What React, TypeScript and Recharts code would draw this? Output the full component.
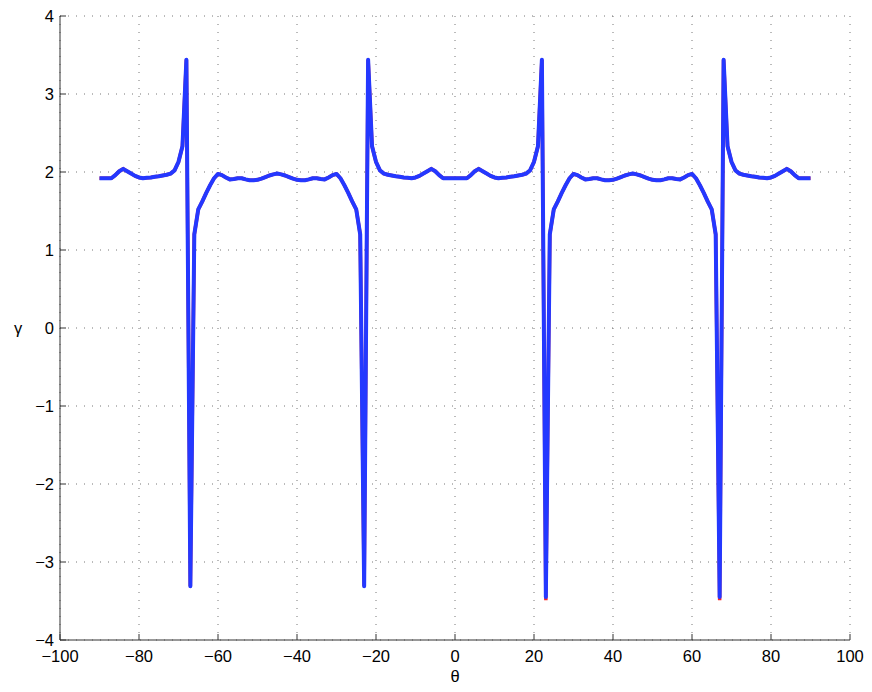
import { LineChart, Line, XAxis, YAxis, CartesianGrid, Label } from 'recharts';

// θ sampled every degree from -90 to 90
const THETA = [
  -90, -89, -88, -87, -86, -85, -84, -83, -82, -81,
  -80, -79, -78, -77, -76, -75, -74, -73, -72, -71,
  -70, -69, -68, -67, -66, -65, -64, -63, -62, -61,
  -60, -59, -58, -57, -56, -55, -54, -53, -52, -51,
  -50, -49, -48, -47, -46, -45, -44, -43, -42, -41,
  -40, -39, -38, -37, -36, -35, -34, -33, -32, -31,
  -30, -29, -28, -27, -26, -25, -24, -23, -22, -21,
  -20, -19, -18, -17, -16, -15, -14, -13, -12, -11,
  -10, -9, -8, -7, -6, -5, -4, -3, -2, -1,
  0, 1, 2, 3, 4, 5, 6, 7, 8, 9,
  10, 11, 12, 13, 14, 15, 16, 17, 18, 19,
  20, 21, 22, 23, 24, 25, 26, 27, 28, 29,
  30, 31, 32, 33, 34, 35, 36, 37, 38, 39,
  40, 41, 42, 43, 44, 45, 46, 47, 48, 49,
  50, 51, 52, 53, 54, 55, 56, 57, 58, 59,
  60, 61, 62, 63, 64, 65, 66, 67, 68, 69,
  70, 71, 72, 73, 74, 75, 76, 77, 78, 79,
  80, 81, 82, 83, 84, 85, 86, 87, 88, 89,
  90,
];

const GAMMA_BLUE = [
  1.92, 1.92, 1.92, 1.92, 1.96, 2.01, 2.04, 2.01, 1.98, 1.95,
  1.93, 1.92, 1.925, 1.93, 1.94, 1.945, 1.955, 1.965, 1.98, 2.02,
  2.13, 2.33, 3.44, -3.31, 1.2, 1.52, 1.62, 1.73, 1.83, 1.92,
  1.975, 1.96, 1.93, 1.905, 1.91, 1.92, 1.92, 1.905, 1.895, 1.895,
  1.9, 1.915, 1.935, 1.955, 1.97, 1.98, 1.97, 1.955, 1.935, 1.915,
  1.9, 1.895, 1.895, 1.905, 1.92, 1.92, 1.91, 1.905, 1.93, 1.96,
  1.975, 1.92, 1.83, 1.73, 1.62, 1.52, 1.2, -3.31, 3.44, 2.33,
  2.13, 2.02, 1.98, 1.965, 1.955, 1.945, 1.94, 1.93, 1.925, 1.92,
  1.93, 1.95, 1.98, 2.01, 2.04, 2.01, 1.96, 1.92, 1.92, 1.92,
  1.92, 1.92, 1.92, 1.92, 1.96, 2.01, 2.04, 2.01, 1.98, 1.95,
  1.93, 1.92, 1.925, 1.93, 1.94, 1.945, 1.955, 1.965, 1.98, 2.02,
  2.13, 2.33, 3.44, -3.45, 1.2, 1.52, 1.62, 1.73, 1.83, 1.92,
  1.975, 1.96, 1.93, 1.905, 1.91, 1.92, 1.92, 1.905, 1.895, 1.895,
  1.9, 1.915, 1.935, 1.955, 1.97, 1.98, 1.97, 1.955, 1.935, 1.915,
  1.9, 1.895, 1.895, 1.905, 1.92, 1.92, 1.91, 1.905, 1.93, 1.96,
  1.975, 1.92, 1.83, 1.73, 1.62, 1.52, 1.2, -3.45, 3.44, 2.33,
  2.13, 2.02, 1.98, 1.965, 1.955, 1.945, 1.94, 1.93, 1.925, 1.92,
  1.93, 1.95, 1.98, 2.01, 2.04, 2.01, 1.96, 1.92, 1.92, 1.92,
  1.92,
];

// red curve lies under the blue one, only its deeper tips at +23 / +67 show
const GAMMA_RED = [
  1.92, 1.92, 1.92, 1.92, 1.96, 2.01, 2.04, 2.01, 1.98, 1.95,
  1.93, 1.92, 1.925, 1.93, 1.94, 1.945, 1.955, 1.965, 1.98, 2.02,
  2.13, 2.33, 3.44, -3.31, 1.2, 1.52, 1.62, 1.73, 1.83, 1.92,
  1.975, 1.96, 1.93, 1.905, 1.91, 1.92, 1.92, 1.905, 1.895, 1.895,
  1.9, 1.915, 1.935, 1.955, 1.97, 1.98, 1.97, 1.955, 1.935, 1.915,
  1.9, 1.895, 1.895, 1.905, 1.92, 1.92, 1.91, 1.905, 1.93, 1.96,
  1.975, 1.92, 1.83, 1.73, 1.62, 1.52, 1.2, -3.31, 3.44, 2.33,
  2.13, 2.02, 1.98, 1.965, 1.955, 1.945, 1.94, 1.93, 1.925, 1.92,
  1.93, 1.95, 1.98, 2.01, 2.04, 2.01, 1.96, 1.92, 1.92, 1.92,
  1.92, 1.92, 1.92, 1.92, 1.96, 2.01, 2.04, 2.01, 1.98, 1.95,
  1.93, 1.92, 1.925, 1.93, 1.94, 1.945, 1.955, 1.965, 1.98, 2.02,
  2.13, 2.33, 3.44, -3.49, 1.2, 1.52, 1.62, 1.73, 1.83, 1.92,
  1.975, 1.96, 1.93, 1.905, 1.91, 1.92, 1.92, 1.905, 1.895, 1.895,
  1.9, 1.915, 1.935, 1.955, 1.97, 1.98, 1.97, 1.955, 1.935, 1.915,
  1.9, 1.895, 1.895, 1.905, 1.92, 1.92, 1.91, 1.905, 1.93, 1.96,
  1.975, 1.92, 1.83, 1.73, 1.62, 1.52, 1.2, -3.49, 3.44, 2.33,
  2.13, 2.02, 1.98, 1.965, 1.955, 1.945, 1.94, 1.93, 1.925, 1.92,
  1.93, 1.95, 1.98, 2.01, 2.04, 2.01, 1.96, 1.92, 1.92, 1.92,
  1.92,
];

const X_TICKS = [-100, -80, -60, -40, -20, 0, 20, 40, 60, 80, 100];
const Y_TICKS = [-4, -3, -2, -1, 0, 1, 2, 3, 4];

const data = THETA.map((t, i) => ({ theta: t, red: GAMMA_RED[i], blue: GAMMA_BLUE[i] }));

const FONT = '"Liberation Sans", Arial, Helvetica, sans-serif';
const AXIS = '#333';
const BLUE = '#2438ff';
const RED = '#ff2020';

const fmt = (v: number) => (v < 0 ? '\u2212' + Math.abs(v) : String(v));
const tickStyle = { fontSize: 16.5, fill: '#000', fontFamily: FONT };

export default function App() {
  return (
    <div style={{ position: 'absolute', left: 0, top: 0, width: 872, height: 692, background: '#fff' }}>
      <LineChart width={872} height={692} data={data} margin={{ top: 16, right: 22, left: 0, bottom: 0 }}>
        <CartesianGrid
          xAxisId="b"
          yAxisId="l"
          stroke="#777"
          strokeDasharray="1 7"
          horizontalValues={Y_TICKS}
          verticalValues={X_TICKS}
        />
        <XAxis
          xAxisId="b"
          dataKey="theta"
          type="number"
          domain={[-100, 100]}
          ticks={X_TICKS}
          interval={0}
          height={52}
          tickSize={-6}
          tickMargin={16.5}
          tickFormatter={fmt}
          tick={tickStyle}
          stroke={AXIS}
        >
          <Label value="θ" position="insideBottom" offset={10} style={{ fontSize: 16.5, fill: '#000', fontFamily: FONT }} />
        </XAxis>
        <XAxis
          xAxisId="t"
          orientation="top"
          dataKey="theta"
          type="number"
          domain={[-100, 100]}
          ticks={X_TICKS}
          interval={0}
          height={0}
          tickSize={-6}
          tickFormatter={() => ''}
          stroke={AXIS}
        />
        <YAxis
          yAxisId="l"
          type="number"
          domain={[-4, 4]}
          ticks={Y_TICKS}
          interval={0}
          width={60}
          tickSize={-6}
          tickMargin={12}
          tickFormatter={fmt}
          tick={tickStyle}
          stroke={AXIS}
        >
          <Label value="γ" position="insideLeft" offset={14} style={{ fontSize: 16.5, fill: '#000', fontFamily: FONT }} />
        </YAxis>
        <YAxis
          yAxisId="r"
          orientation="right"
          type="number"
          domain={[-4, 4]}
          ticks={Y_TICKS}
          interval={0}
          width={0}
          tickSize={-6}
          tickFormatter={() => ''}
          stroke={AXIS}
        />
        <Line
          xAxisId="b"
          yAxisId="l"
          type="linear"
          dataKey="red"
          stroke={RED}
          strokeWidth={3.5}
          dot={false}
          isAnimationActive={false}
        />
        <Line
          xAxisId="b"
          yAxisId="l"
          type="linear"
          dataKey="blue"
          stroke={BLUE}
          strokeWidth={4}
          strokeLinejoin="round"
          dot={false}
          isAnimationActive={false}
        />
      </LineChart>
    </div>
  );
}
